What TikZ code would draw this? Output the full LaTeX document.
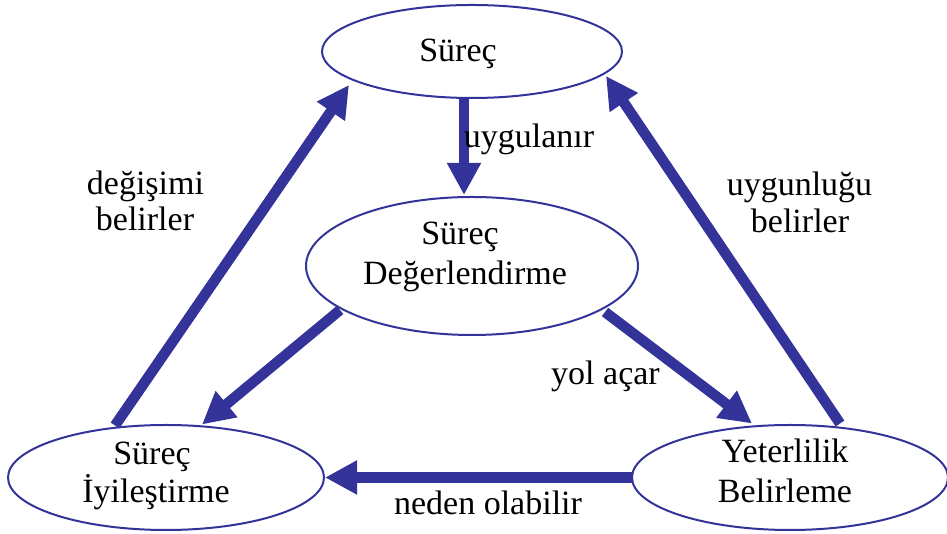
\documentclass[tikz,border=0pt]{standalone}
\usepackage{fontspec}
\setmainfont{Liberation Serif}
\usetikzlibrary{arrows.meta,shapes.geometric}
\definecolor{flowblue}{HTML}{333399}

\tikzset{
  oval/.style={ellipse, draw=flowblue, line width=2pt, fill=white, inner sep=0pt},
  txt/.style={anchor=base, inner sep=0pt, text=black, font=\fontsize{34}{40}\selectfont},
  flow/.style={draw=flowblue, line width=10.5pt,
    -{Triangle[length=32pt,width=32pt]}, color=flowblue}
}

\begin{document}
\begin{tikzpicture}[x=1pt,y=1pt]
  \useasboundingbox (0,0) rectangle (947,534);

  % the four ovals
  \node[oval, minimum width=300pt, minimum height=93pt]  (top)   at (472,482.5) {};
  \node[oval, minimum width=332pt, minimum height=138pt] (mid)   at (472,268) {};
  \node[oval, minimum width=316pt, minimum height=105pt] (left)  at (166,56.5) {};
  \node[oval, minimum width=316pt, minimum height=105pt] (right) at (790,56.5) {};

  % their texts
  \node[txt] (topA)   at (458,472) {Süreç};
  \node[txt] (midA)   at (460,289) {Süreç};
  \node[txt] (midB)   at (465,249) {Değerlendirme};
  \node[txt] (leftA)  at (152,69)  {Süreç};
  \node[txt] (leftB)  at (156,31)  {İyileştirme};
  \node[txt] (rightA) at (785,71)  {Yeterlilik};
  \node[txt] (rightB) at (785,31)  {Belirleme};

  % connectors
  \draw[flow] ([shift={(-8,-46)}]top.center)   -- ([shift={(-8,71)}]mid.center);
  \draw[flow] ([shift={(-132,-44)}]mid.center) -- ([shift={(36,53)}]left.center);
  \draw[flow] ([shift={(133,-46)}]mid.center)  -- ([shift={(-38,54)}]right.center);
  \draw[flow] ([shift={(-51,52)}]left.center)  -- ([shift={(-123,-33.5)}]top.center);
  \draw[flow] ([shift={(50,54)}]right.center)  -- ([shift={(134,-24.5)}]top.center);
  \draw[flow] ([shift={(-158,0)}]right.center) -- ([shift={(159,0)}]left.center);

  % connector labels
  \node[txt] (l1)  at (529,386)   {uygulanır};
  \node[txt] (l2a) at (145.5,339) {değişimi};
  \node[txt] (l2b) at (145,303)   {belirler};
  \node[txt] (l3a) at (799.5,338) {uygunluğu};
  \node[txt] (l3b) at (800,301)   {belirler};
  \node[txt] (l4)  at (605.5,149) {yol açar};
  \node[txt] (l5)  at (488,19)    {neden olabilir};
\end{tikzpicture}
\end{document}
